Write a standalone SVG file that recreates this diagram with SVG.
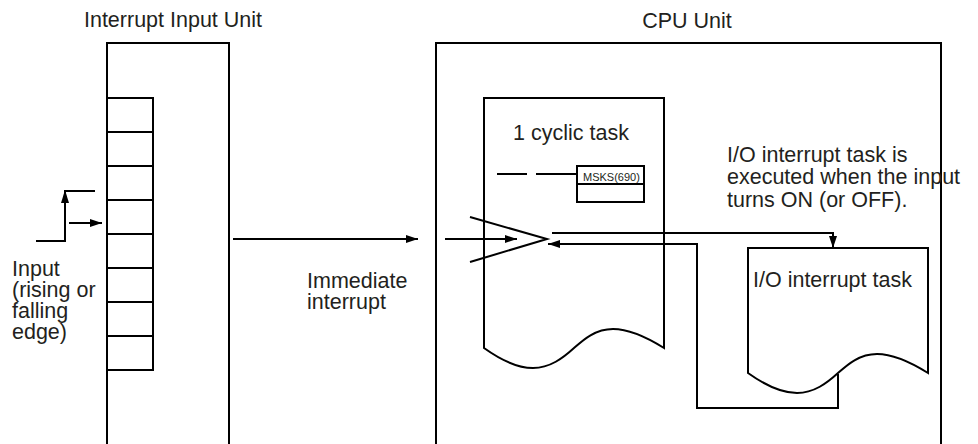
<svg xmlns="http://www.w3.org/2000/svg" width="978" height="444" viewBox="0 0 978 444">
<style>
.s{fill:none;stroke:#000;stroke-width:2}
.t{font-family:"Liberation Sans",Arial,sans-serif;font-size:21.5px;fill:#231f20}
.sm{font-family:"Liberation Sans",Arial,sans-serif;font-size:11px;fill:#231f20}
</style>
<defs>
<marker id="ah" markerWidth="12" markerHeight="8" refX="12" refY="4" orient="auto" markerUnits="userSpaceOnUse">
<path d="M0,0 L12,4 L0,8 Z" fill="#000"/>
</marker>
</defs>
<rect width="978" height="444" fill="#fff"/>
<g id="interrupt-input-unit">
<text class="t" x="173" y="27" text-anchor="middle">Interrupt Input Unit</text>
<path class="s" d="M107,446 V43 H229 V446"/>
<path class="s" d="M107,98 H153 V370 H107 M107,132 H153 M107,166 H153 M107,200 H153 M107,234 H153 M107,268 H153 M107,302 H153 M107,336 H153"/>
</g>
<g id="input-signal">
<path class="s" d="M36,241 H65 V191 H95"/>
<path d="M65,190 L61,203 L69,203 Z" fill="#000"/>
<text class="t" x="12" y="276">Input</text>
<text class="t" x="12" y="297">(rising or</text>
<text class="t" x="12" y="318">falling</text>
<text class="t" x="12" y="339">edge)</text>
</g>
<g id="cpu-unit">
<text class="t" x="687" y="28" text-anchor="middle">CPU Unit</text>
<path class="s" d="M436,446 V43 H941 V446"/>
</g>
<g id="cyclic-task">
<path class="s" d="M484,348 V98 H664 V348 C648,338 630,329 613,329 C595,329 583,340 574,348 C563,358 550,368 533,368 C515,368 498,358 484,348 Z"/>
<text class="t" x="513" y="140">1 cyclic task</text>
<path class="s" d="M497,174 H527 M536,174 H577"/>
<rect class="s" x="577" y="166" width="67" height="36"/>
<line class="s" x1="577" y1="184" x2="644" y2="184"/>
<text class="sm" x="583" y="181">MSKS(690)</text>
<path class="s" d="M470,217 L547,239 L470,262"/>
</g>
<g id="io-interrupt-task">
<path class="s" d="M748,373 V248 H928 V373 C912,363 894,354 877,354 C859,354 847,365 838,373 C827,383 814,393 797,393 C779,393 762,383 748,373 Z"/>
<text class="t" x="753" y="287">I/O interrupt task</text>
</g>
<g id="notes">
<text class="t" x="727" y="162">I/O interrupt task is</text>
<text class="t" x="727" y="184">executed when the input</text>
<text class="t" x="727" y="207">turns ON (or OFF).</text>
<text class="t" x="307" y="288">Immediate</text>
<text class="t" x="307" y="309">interrupt</text>
</g>
<g id="connectors">
<path class="s" d="M69,223 H102" marker-end="url(#ah)"/>
<path class="s" d="M233,239 H418" marker-end="url(#ah)"/>
<path class="s" d="M445,239 H517" marker-end="url(#ah)"/>
<path class="s" d="M552,233 H833 V248" marker-end="url(#ah)"/>
<path class="s" d="M838,374 V408 H697 V244 H548" marker-end="url(#ah)"/>
</g>
</svg>
